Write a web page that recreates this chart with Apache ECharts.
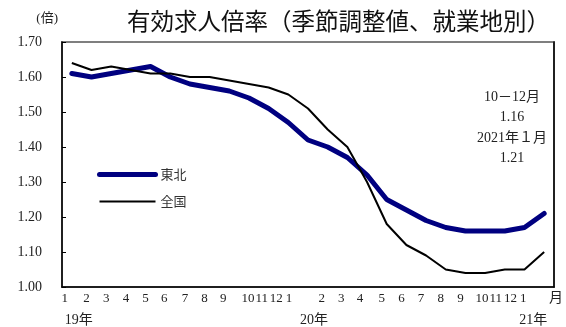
<!DOCTYPE html>
<html>
<head>
<meta charset="utf-8">
<style>
  html, body { margin: 0; padding: 0; background: #ffffff; }
  #chart { width: 566px; height: 327px; }
</style>
<script src="https://cdn.jsdelivr.net/npm/echarts@6/dist/echarts.min.js"></script>
</head>
<body>
<div id="chart"></div>
<script>
// Month labels, January 2019 to January 2021
const months = ['1','2','3','4','5','6','7','8','9','10','11','12',
                '1','2','3','4','5','6','7','8','9','10','11','12',
                '1'];
// Year captions shown under the first month of each year
const years = { 0: '19年', 12: '20年', 24: '21年' };

// Job openings-to-applicants ratio (seasonally adjusted, by workplace)
const tohoku = [1.61, 1.60, 1.61, 1.62, 1.63, 1.60, 1.58, 1.57, 1.56, 1.54, 1.51, 1.47,
                1.42, 1.40, 1.37, 1.32, 1.25, 1.22, 1.19, 1.17, 1.16, 1.16, 1.16, 1.17,
                1.21];
const national = [1.64, 1.62, 1.63, 1.62, 1.61, 1.61, 1.60, 1.60, 1.59, 1.58, 1.57, 1.55,
                  1.51, 1.45, 1.40, 1.30, 1.18, 1.12, 1.09, 1.05, 1.04, 1.04, 1.05, 1.05,
                  1.10];

const yMin = 1.0, yMax = 1.7, yStep = 0.1;

// Horizontal nudges (px) for the month and year captions
const monthNudge = [-7,-5,-5,-5,-5,-6,-5,-5,-6,-1,-7,-12,-19,-6,-6,-7,-5,-5,-5,-5,-5,-3,-9,-14,-21];
const yearNudge = { 0: 7, 12: 6, 24: -11 };

const serif = "'Liberation Serif', 'Noto Sans CJK JP', serif";
const gothic = "'Noto Sans CJK JP', 'Noto Sans', sans-serif";

function nudgeStyle(d, size) {
  return {
    fontFamily: serif, fontSize: size, color: '#222',
    padding: d < 0 ? [0, -2 * d, 0, 0] : [0, 0, 0, 2 * d]
  };
}

const monthRich = {};
monthNudge.forEach((d, i) => { monthRich['m' + i] = nudgeStyle(d, 13); });
const yearRich = {};
Object.keys(yearNudge).forEach(k => { yearRich['y' + k] = nudgeStyle(yearNudge[k], 14); });

// Oct–Dec 2020 average and Jan 2021 value for the note box
const q4 = (tohoku[21] + tohoku[22] + tohoku[23]) / 3;
const jan21 = tohoku[24];

const chart = echarts.init(document.getElementById('chart'), null, { renderer: 'canvas' });

chart.setOption({
  animation: false,
  backgroundColor: '#ffffff',
  title: {
    text: '有効求人倍率（季節調整値、就業地別）',
    left: 122, top: 4,
    textStyle: { fontFamily: gothic, fontSize: 23.5, fontWeight: 'normal', color: '#111' }
  },
  grid: {
    left: 62, right: 6, top: 42, bottom: 40,
    show: true, borderColor: '#7f7f7f', borderWidth: 2, backgroundColor: 'transparent'
  },
  legend: {
    orient: 'vertical', left: 92, top: 163,
    itemWidth: 56, itemHeight: 14, itemGap: 14,
    itemStyle: { opacity: 0, borderWidth: 0 },
    textStyle: { fontFamily: gothic, fontSize: 13, color: '#333' },
    data: [
      { name: '東北', lineStyle: { width: 5, color: '#000080', cap: 'round' } },
      { name: '全国', lineStyle: { width: 2, color: '#000' } }
    ]
  },
  xAxis: [
    {
      type: 'category', data: months, boundaryGap: true, position: 'bottom',
      axisLine: { show: true, lineStyle: { color: '#000', width: 1.5 } },
      axisTick: { show: false },
      axisLabel: {
        interval: 0, margin: 5, hideOverlap: false,
        formatter: (v, i) => '{m' + i + '|' + v + '}',
        rich: monthRich
      },
      name: '月', nameLocation: 'end', nameGap: -5,
      nameTextStyle: { fontFamily: serif, fontSize: 14, color: '#222',
                       verticalAlign: 'top', padding: [4, 0, 0, 0] }
    },
    {
      type: 'category', data: months, boundaryGap: true, position: 'bottom', offset: 22,
      axisLine: { show: false }, axisTick: { show: false }, splitLine: { show: false },
      axisLabel: {
        interval: 0, margin: 4, hideOverlap: false,
        formatter: (v, i) => (years[i] ? '{y' + i + '|' + years[i] + '}' : ''),
        rich: yearRich
      }
    }
  ],
  yAxis: [
    {
      type: 'value', min: yMin, max: yMax, interval: yStep,
      axisLine: { show: true, lineStyle: { color: '#000', width: 1.5 } },
      axisTick: { show: true, inside: true, length: 4, lineStyle: { color: '#000' } },
      splitLine: { show: false },
      axisLabel: { margin: 20, formatter: v => v.toFixed(2),
                   fontFamily: serif, fontSize: 14, color: '#222' },
      name: '(倍)', nameLocation: 'end', nameGap: 17,
      nameTextStyle: { fontFamily: serif, fontSize: 13, color: '#222',
                       align: 'right', padding: [0, 4, 0, 0] }
    },
    {
      type: 'value', min: yMin, max: yMax, interval: yStep, position: 'right',
      axisLine: { show: true, lineStyle: { color: '#000', width: 1.5 } },
      axisTick: { show: false }, axisLabel: { show: false }, splitLine: { show: false }
    }
  ],
  series: [
    {
      name: '東北', type: 'line', data: tohoku, xAxisIndex: 0, yAxisIndex: 0,
      symbol: 'none', showSymbol: false, smooth: false, z: 3,
      lineStyle: { color: '#000080', width: 5, cap: 'round', join: 'round' },
      itemStyle: { color: '#000080' }
    },
    {
      name: '全国', type: 'line', data: national, xAxisIndex: 0, yAxisIndex: 0,
      symbol: 'none', showSymbol: false, smooth: false, z: 4,
      lineStyle: { color: '#000', width: 2 },
      itemStyle: { color: '#000' }
    }
  ],
  graphic: [
    {
      type: 'text', x: 512, y: 87,
      style: {
        text: '10－12月\n' + q4.toFixed(2) + '\n2021年１月\n' + jan21.toFixed(2),
        align: 'center', textAlign: 'center', lineHeight: 20.5,
        font: "14px 'Liberation Serif', 'Noto Sans CJK JP', serif", fill: '#222'
      }
    }
  ]
});
</script>
</body>
</html>
